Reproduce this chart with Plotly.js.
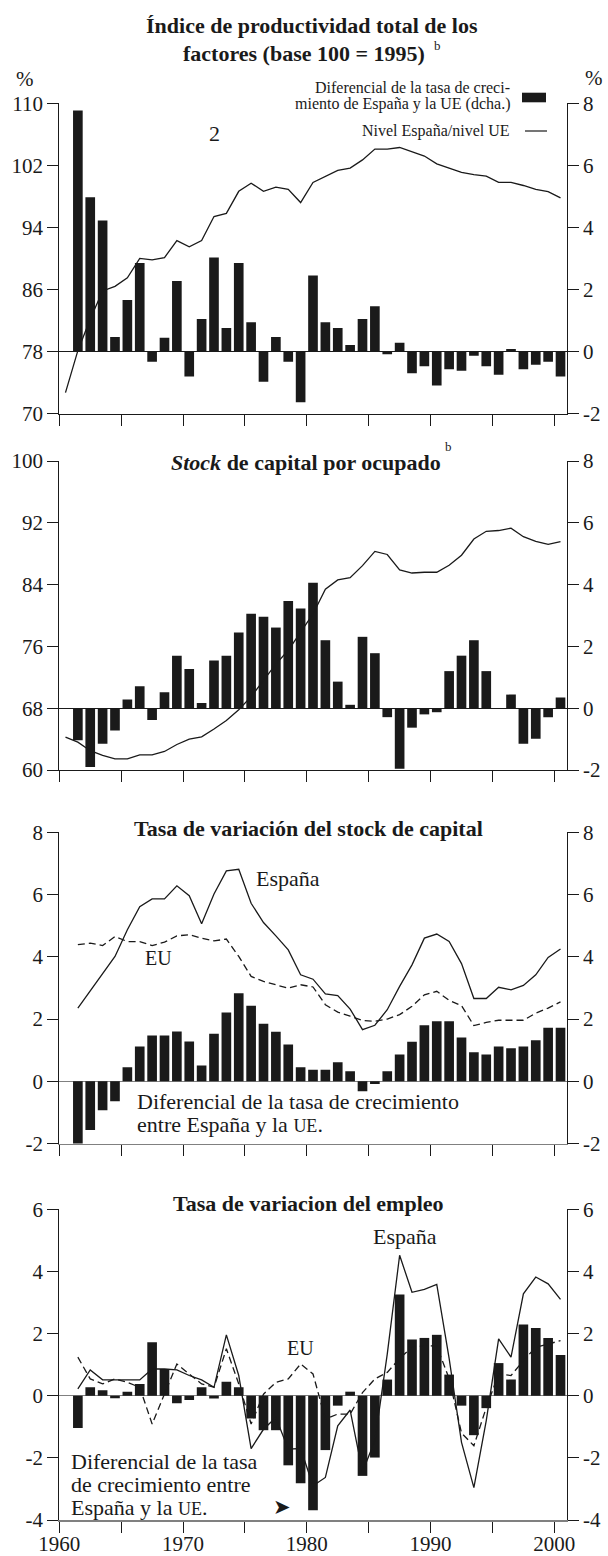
<!DOCTYPE html>
<html><head><meta charset="utf-8">
<script src="https://cdn.plot.ly/plotly-3.0.1.min.js"></script>
<style>body{margin:0;background:#fff}#chart{width:608px;height:1556px}</style>
</head><body><div id="chart"></div><script>
// ---------------- data ----------------
const years = [1961,1962,1963,1964,1965,1966,1967,1968,1969,1970,1971,1972,1973,1974,1975,1976,1977,1978,1979,1980,
               1981,1982,1983,1984,1985,1986,1987,1988,1989,1990,1991,1992,1993,1994,1995,1996,1997,1998,1999,2000];
const yearsLevel = [1960,1961,1962,1963,1964,1965,1966,1967,1968,1969,1970,1971,1972,1973,1974,1975,1976,1977,1978,1979,1980,
                    1981,1982,1983,1984,1985,1986,1987,1988,1989,1990,1991,1992,1993,1994,1995,1996,1997,1998,1999,2000];

// Panel 1: Índice de productividad total de los factores
const ptfDiff = [7.77,4.97,4.22,0.47,1.66,2.85,-0.33,0.44,2.27,-0.81,1.05,3.03,0.76,2.85,0.94,-0.98,0.47,-0.33,-1.64,2.45,
                 0.94,0.76,0.21,1.05,1.46,-0.09,0.28,-0.70,-0.48,-1.10,-0.57,-0.62,-0.14,-0.48,-0.75,0.08,-0.57,-0.43,-0.33,-0.81];
const ptfLevel = [72.7,78.1,82.2,85.8,86.4,87.5,90.0,89.8,90.1,92.3,91.5,92.3,95.4,95.8,98.65,99.7,98.65,99.2,98.9,97.2,99.8,
                  100.6,101.35,101.65,102.7,104.1,104.1,104.3,103.8,103.2,102.2,101.65,101.1,100.8,100.6,99.8,99.8,99.4,98.9,98.6,97.8];

// Panel 2: Stock de capital por ocupado
const kocDiff = [-1.04,-1.90,-1.15,-0.72,0.28,0.71,-0.38,0.52,1.70,1.27,0.17,1.54,1.70,2.45,3.06,2.96,2.61,3.47,3.23,4.06,
                 2.20,0.86,0.11,2.31,1.78,-0.29,-1.96,-0.63,-0.20,-0.13,1.20,1.70,2.20,1.20,0,0.44,-1.15,-0.99,-0.29,0.35];
const kocLevel = [64.25,63.6,62.5,61.9,61.45,61.45,61.97,61.97,62.4,63.3,64.0,64.3,65.3,66.4,67.8,69.5,71.6,73.7,75.5,77.8,80.2,
                  83.4,84.6,84.9,86.45,88.3,87.9,85.9,85.5,85.6,85.6,86.5,87.8,89.9,90.9,91.0,91.3,90.2,89.6,89.2,89.55];

// Panel 3: Tasa de variación del stock de capital
const kDiff = [-2.05,-1.57,-0.93,-0.64,0.45,1.12,1.47,1.47,1.60,1.28,0.51,1.53,2.21,2.83,2.43,1.85,1.59,1.18,0.45,0.37,
               0.37,0.61,0.32,-0.32,-0.09,0.32,0.86,1.27,1.80,1.93,1.93,1.41,0.93,0.86,1.12,1.06,1.12,1.32,1.72,1.72];
const kEsp = [2.35,2.89,3.45,4.01,4.87,5.61,5.86,5.86,6.28,5.96,5.06,6.02,6.76,6.81,5.72,5.10,4.67,4.22,3.42,3.28,
              2.81,2.75,2.32,1.66,1.80,2.30,3.05,3.74,4.60,4.73,4.49,3.78,2.66,2.66,3.02,2.94,3.08,3.42,3.98,4.25];
const kEU = [4.39,4.44,4.36,4.65,4.49,4.49,4.36,4.47,4.67,4.71,4.60,4.51,4.57,4.01,3.37,3.21,3.10,2.99,3.10,3.03,
             2.46,2.22,2.09,1.95,1.93,2.00,2.14,2.41,2.78,2.89,2.60,2.43,1.79,1.89,1.96,1.96,1.96,2.19,2.35,2.55];

// Panel 4: Tasa de variacion del empleo
const eDiff = [-1.04,0.27,0.18,-0.08,0.13,0.38,1.72,0.86,-0.24,-0.14,0.27,-0.09,0.45,0.27,-0.73,-1.11,-1.11,-2.24,-2.82,-3.69,
               -1.75,-0.32,0.13,-2.58,-1.99,0.52,3.26,1.81,1.86,1.96,0.68,-0.32,-1.27,-0.40,1.05,0.52,2.29,2.18,1.86,1.31];
const eEsp = [0.22,0.83,0.51,0.51,0.51,0.51,0.86,0.86,0.83,0.65,0.51,0.27,1.96,0.65,-1.70,-1.08,-0.70,-1.72,-1.70,-2.90,
              -2.63,-0.97,-0.46,-2.45,-1.45,1.34,4.52,3.33,3.42,3.58,1.20,-1.50,-2.96,-0.80,1.83,1.24,3.28,3.82,3.60,3.10];
const eEU = [1.24,0.54,0.38,0.54,0.43,0.27,-0.91,0.05,1.02,0.70,0.38,0.27,1.51,0.38,-0.91,0.05,0.43,0.54,1.02,0.70,
             -0.75,-0.59,-0.59,0.10,0.54,0.75,1.20,1.56,1.61,1.60,0.55,-1.20,-1.61,-0.38,0.70,0.65,1.13,1.56,1.67,1.77];

const xTickVals = [1960,1965,1970,1975,1980,1985,1990,1995,2000];
const xTickText = ['1960','','1970','','1980','','1990','','2000'];
const leftTicks = [[70,78,86,94,102,110],[60,68,76,84,92,100],[-2,0,2,4,6,8],[-4,-2,0,2,4,6]];
const rightTicks = [[-2,0,2,4,6,8],[-2,0,2,4,6,8],[-2,0,2,4,6,8],[-4,-2,0,2,4,6]];

// ---------------- layout helpers ----------------
const W = 608, H = 1556;
const SERIF = 'Liberation Serif, Times New Roman, serif';
const INK = '#1a1a1a';
const X0 = 59.3, X1 = 566.7;
const panelPx = [[103.3,413.5],[461,770],[832.3,1143.5],[1209.3,1520]];
const mid = v => v + 0.5;              // values are plotted at mid-year
const xBar = years.map(mid);
const xLevel = yearsLevel.map(mid);
const tickFont = {family: SERIF, size: 21, color: INK};

const layout = {
  width: W, height: H, margin: {l:0, r:0, t:0, b:0},
  paper_bgcolor: '#fff', plot_bgcolor: 'rgba(0,0,0,0)',
  showlegend: false, font: {family: SERIF, size: 20, color: INK},
  annotations: [], shapes: []
};

function axId(n){ return n === 1 ? '' : String(n); }
for (let i = 0; i < 4; i++) {
  const top = panelPx[i][0], bot = panelPx[i][1];
  const xn = i + 1, base = 2*i + 1, over = 2*i + 2;
  const gray = i >= 2;
  layout['xaxis' + axId(xn)] = {
    domain: [X0/W, X1/W], range: [1960, 2001], anchor: 'y' + axId(base),
    tickmode: 'array', tickvals: xTickVals, ticktext: xTickText,
    ticks: 'outside', ticklen: 11, tickwidth: 1, tickcolor: INK,
    showticklabels: i === 3, tickfont: tickFont, ticklabelstandoff: -7,
    showline: true, linecolor: gray ? '#808080' : INK, linewidth: i === 3 ? 2 : (gray ? 1.5 : 1),
    showgrid: false, zeroline: false, fixedrange: true
  };
  // base axis: right side, carries the bars
  layout['yaxis' + axId(base)] = {
    domain: [1 - bot/H, 1 - top/H], anchor: 'x' + axId(xn), side: 'right',
    range: [rightTicks[i][0], rightTicks[i][5]],
    tickmode: 'array', tickvals: rightTicks[i], ticktext: rightTicks[i].map(String),
    ticks: 'outside', ticklen: 11, tickwidth: 1, tickcolor: INK, tickfont: tickFont,
    showline: true, linecolor: INK, linewidth: 1, showgrid: false,
    zeroline: true, zerolinecolor: gray ? '#808080' : INK, zerolinewidth: gray ? 1.5 : 1,
    fixedrange: true
  };
  // overlay axis: left side, carries the lines
  layout['yaxis' + axId(over)] = {
    overlaying: 'y' + axId(base), anchor: 'x' + axId(xn), side: 'left',
    range: [leftTicks[i][0], leftTicks[i][5]],
    tickmode: 'array', tickvals: leftTicks[i], ticktext: leftTicks[i].map(String),
    ticks: 'outside', ticklen: 11, tickwidth: 1, tickcolor: INK, tickfont: tickFont,
    showline: true, linecolor: INK, linewidth: 1, showgrid: false, zeroline: false,
    fixedrange: true
  };
}

function ann(text, x, y, o) {
  return Object.assign({text: text, x: x/W, y: 1 - y/H, xref: 'paper', yref: 'paper', showarrow: false,
    xanchor: 'center', yanchor: 'middle', font: {family: SERIF, size: 22, color: INK}}, o || {});
}
const bold = s => ({family: SERIF, size: s, color: INK, weight: 'bold'});
const reg = s => ({family: SERIF, size: s, color: INK});
const A = layout.annotations;
// titles
A.push(ann('<b>Índice de productividad total de los</b>', 312, 26, {font: bold(22)}));
A.push(ann('<b>factores (base 100 = 1995)</b>', 304, 54, {font: bold(22)}));
A.push(ann('b', 437, 45, {font: reg(13)}));
A.push(ann('<b><i>Stock</i> de capital por ocupado</b>', 306, 462, {font: bold(22)}));
A.push(ann('b', 448, 447, {font: reg(13)}));
A.push(ann('<b>Tasa de variación del stock de capital</b>', 308, 828, {font: bold(22)}));
A.push(ann('<b>Tasa de variacion del empleo</b>', 308, 1203, {font: bold(22)}));
// units
A.push(ann('%', 25, 79, {font: reg(21)}));
A.push(ann('%', 594, 78, {font: reg(21)}));
// panel 1 legend and label
A.push(ann('Diferencial de la tasa de creci-', 511.5, 87.5, {xanchor: 'right', font: reg(16)}));
A.push(ann('miento de España y la UE (dcha.)', 511.5, 103.5, {xanchor: 'right', font: reg(16)}));
A.push(ann('Nivel España/nivel UE', 511.5, 131, {xanchor: 'right', font: reg(16)}));
A.push(ann('2', 214, 133));
layout.shapes.push({type: 'rect', xref: 'paper', yref: 'paper', x0: 522/W, x1: 546/W, y0: 1 - 102.3/H, y1: 1 - 92.7/H,
  fillcolor: INK, line: {width: 0}});
layout.shapes.push({type: 'line', xref: 'paper', yref: 'paper', x0: 525/W, x1: 547/W, y0: 1 - 131/H, y1: 1 - 131/H,
  line: {color: INK, width: 1.2}});
// panel 3 labels
A.push(ann('España', 288, 878));
A.push(ann('EU', 158, 958, {font: reg(20)}));
A.push(ann('Diferencial de la tasa de crecimiento', 135, 1101, {xanchor: 'left'}));
A.push(ann('entre España y la <span style="font-size:18px">UE</span>.', 135, 1124, {xanchor: 'left'}));
// panel 4 labels
A.push(ann('España', 405, 1236));
A.push(ann('EU', 300, 1348, {font: reg(20)}));
A.push(ann('Diferencial de la tasa', 69, 1461, {xanchor: 'left'}));
A.push(ann('de crecimiento entre', 69, 1484, {xanchor: 'left'}));
A.push(ann('España y la <span style="font-size:18px">UE</span>.', 69, 1507, {xanchor: 'left'}));
A.push(ann('➤', 282, 1507, {font: {family: 'DejaVu Sans', size: 21, color: INK}}));

// ---------------- traces ----------------
const barStyle = {type: 'bar', width: 0.78, marker: {color: INK, line: {width: 0}}, hoverinfo: 'skip'};
const solid = {type: 'scatter', mode: 'lines', line: {color: INK, width: 1.3}, hoverinfo: 'skip'};
const dashed = {type: 'scatter', mode: 'lines', line: {color: INK, width: 1.3, dash: '7px,4px'}, hoverinfo: 'skip'};

const traces = [
  Object.assign({}, barStyle, {x: xBar, y: ptfDiff, xaxis: 'x', yaxis: 'y'}),
  Object.assign({}, solid, {x: xLevel, y: ptfLevel, xaxis: 'x', yaxis: 'y2'}),
  Object.assign({}, barStyle, {x: xBar, y: kocDiff, xaxis: 'x2', yaxis: 'y3'}),
  Object.assign({}, solid, {x: xLevel, y: kocLevel, xaxis: 'x2', yaxis: 'y4'}),
  Object.assign({}, barStyle, {x: xBar, y: kDiff, xaxis: 'x3', yaxis: 'y5'}),
  Object.assign({}, solid, {x: xBar, y: kEsp, xaxis: 'x3', yaxis: 'y6'}),
  Object.assign({}, dashed, {x: xBar, y: kEU, xaxis: 'x3', yaxis: 'y6'}),
  Object.assign({}, barStyle, {x: xBar, y: eDiff, xaxis: 'x4', yaxis: 'y7'}),
  Object.assign({}, solid, {x: xBar, y: eEsp, xaxis: 'x4', yaxis: 'y8'}),
  Object.assign({}, dashed, {x: xBar, y: eEU, xaxis: 'x4', yaxis: 'y8'})
];

Plotly.newPlot('chart', traces, layout, {staticPlot: true, displayModeBar: false});
</script></body></html>
